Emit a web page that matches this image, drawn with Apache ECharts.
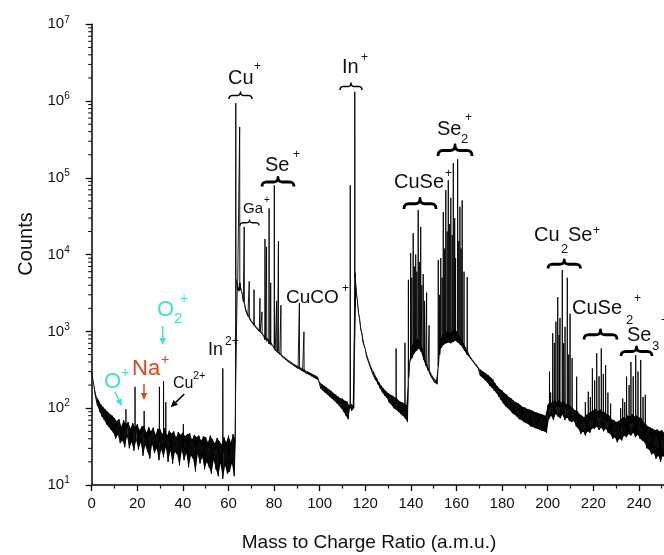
<!DOCTYPE html>
<html><head><meta charset="utf-8">
<script src="https://cdn.jsdelivr.net/npm/echarts@6/dist/echarts.min.js"></script>
<style>html,body{margin:0;padding:0;background:#fff}#c{width:664px;height:555px}</style>
</head><body><div id="c"></div>
<script>
const FONT = '"Liberation Sans", Arial, sans-serif';

// background noise / decay tails, sampled every 0.5 amu starting at 0
const noiseStart = 0, noiseStep = 0.5;
const noise = [
300,235,196,150,146,108,128,90,112,78,104,70,96,62,90,57,84,52,80,48,
74,40,68,45,72,35,58,38,70,31,62,43,66,30,55,36,64,28,57,38,
62,29,52,36,58,24,60,33,48,27,57,22,50,34,56,26,45,30,54,21,
53,29,46,23,55,31,44,20,51,28,47,19,50,27,42,25,49,18,45,28,
48,21,43,26,46,17,47,24,39,22,45,15,42,25,44,19,38,23,43,16,
42,20,36,17,44,14,39,21,35,16,41,13,37,19,34,12,42,18,36,14,
44,15,36,19,46,13,40,4800,3500,3300,4300,3500,3100,2450,2300,1880,1850,1580,1590,1400,
1400,1290,1290,1180,1180,1080,1090,1000,1010,930,935,860,870,800,810,745,755,695,705,650,
615,565,575,530,540,500,510,470,480,445,455,420,432,398,410,380,392,362,375,345,
360,330,346,316,334,304,321,292,310,280,298,270,288,260,277,250,266,240,256,230,
220,180,205,168,196,158,186,150,176,140,168,132,158,124,150,116,142,108,135,100,
133,90,125,80,122,72,108,116,92,110,100,5800,3300,2600,1750,1480,1050,960,720,690,
590,480,470,390,385,320,325,270,285,232,248,205,218,180,196,160,180,145,168,136,
158,118,150,110,145,100,138,96,132,90,124,84,120,80,116,74,110,66,250,400,
600,450,700,520,750,560,800,600,750,540,600,430,460,360,380,310,320,270,280,240,
250,215,230,205,350,550,800,620,900,680,950,700,1000,720,950,700,1000,730,1050,760,
1000,720,900,680,800,620,700,560,620,500,540,470,480,430,430,395,395,360,365,330,
330,262,310,248,296,232,282,218,268,196,252,186,236,170,210,158,192,142,178,128,
170,116,158,106,150,100,140,94,134,86,126,82,120,78,116,72,110,70,104,66,
102,64,98,62,96,58,94,57,90,55,88,54,86,52,84,51,82,50,80,48,
110,72,124,80,116,70,130,84,120,78,128,74,118,82,124,70,112,76,116,68,
106,66,100,68,94,58,92,54,84,46,80,50,76,44,82,50,86,48,90,55,
94,54,98,58,92,52,96,56,90,50,88,54,84,48,80,46,72,40,70,42,
66,36,68,40,72,38,76,44,74,42,80,46,78,44,84,48,78,42,80,45,
76,40,74,38,66,36,62,30,58,29,56,25,54,26,52,22,53,24,50,20,
52,24,48,22,50,21,46,24,49,20,47,22,50,19,45,23,48,21,46,20
];

// isolated mass peaks
const peakMz = [
15.0,19.0,23.0,29.7,31.5,32.5,40.2,57.5,
63.2,64.9,66.9,69.1,71.2,73.8,74.7,76.0,76.7,77.8,78.5,80.1,81.1,81.9,83.0,91.1,93.1,
113.4,115.4,133.5,137.4,
138.9,139.9,140.4,141.0,141.5,142.1,142.6,143.2,143.7,144.3,144.8,145.4,146.0,146.9,148.0,
152.0,152.6,153.1,153.7,154.2,154.8,155.3,155.9,156.4,157.0,157.5,158.1,158.6,159.2,159.6,160.5,161.0,161.5,162.0,162.5,163.3,164.7,
200.8,201.3,202.2,202.9,203.6,204.4,205.0,205.4,206.4,207.0,207.6,208.6,209.2,209.8,210.7,212.7,
216.5,217.8,218.7,219.6,220.6,221.5,222.5,223.5,224.4,225.4,226.4,227.6,
232.0,232.9,233.8,234.6,235.7,236.5,237.5,238.6,239.6,240.8,241.8,242.8
];
const peakTop = [
97,190,92,190,225,120,62,330,
940000,460000,23000,4500,3500,2700,1800,16000,12600,40000,4300,80000,2500,15000,2200,2340,990,
80000,1320000,600,710,
4700,10500,5000,19000,7000,10000,6000,38000,8000,23000,4000,5600,2500,3200,1200,
8500,3000,9000,5000,36000,12000,69000,20000,93000,25000,55000,18000,155000,30000,9000,175000,15000,42000,12000,51000,6000,5100,
300,160,950,710,1340,2800,900,1500,6300,700,1150,5000,500,1700,450,258,
120,164,140,330,230,520,260,600,280,365,160,115,
100,134,120,258,200,400,260,490,300,425,140,150
];
const peakBase = [
45,40,38,36,36,35,30,26,
5000,3500,2400,1550,1200,980,920,780,740,690,670,600,570,545,505,330,300,
100,5000,115,90,
250,450,550,650,600,700,650,700,650,650,550,500,450,380,300,
350,500,700,700,800,750,850,800,850,800,850,800,900,850,850,850,800,750,700,650,600,560,
100,100,105,105,105,105,105,105,105,100,100,100,95,95,90,80,
60,65,70,72,75,75,75,75,72,70,65,55,
50,55,58,60,62,62,62,60,58,55,50,45
];

const yMinorTicks = [
20,30,40,50,60,70,80,90,
200,300,400,500,600,700,800,900,
2000,3000,4000,5000,6000,7000,8000,9000,
20000,30000,40000,50000,60000,70000,80000,90000,
200000,300000,400000,500000,600000,700000,800000,900000,
2000000,3000000,4000000,5000000,6000000,7000000,8000000,9000000
];

const noisePts = noise.map((v, i) => [noiseStart + i * noiseStep, v]);
const pts = noisePts.slice();
peakMz.forEach((m, i) => {
  pts.push([m - 0.07, peakBase[i]], [m, peakTop[i]], [m + 0.07, peakBase[i]]);
});
pts.sort((a, b) => a[0] - b[0]);
// consecutive noise sample triples -> filled band between the zigzag envelopes
const bandTri = [];
for (let i = 0; i + 2 < noisePts.length; i++) {
  bandTri.push([noisePts[i][0], noisePts[i][1], noisePts[i + 1][0], noisePts[i + 1][1], noisePts[i + 2][0], noisePts[i + 2][1]]);
}

const CYAN = '#3fe3cf', RED = '#e2461c', INK = '#111';

function T(x, y, text, size, color, extra) {
  return Object.assign({
    type: 'text', x: x, y: y, silent: true,
    style: { text: text, fill: color || INK, font: size + 'px ' + FONT,
      align: 'left', verticalAlign: 'middle', textAlign: 'left', textVerticalAlign: 'middle' }
  }, extra || {});
}
function quad(p0, p1, p2, out) {
  for (let k = 1; k <= 6; k++) {
    const t = k / 6, a = (1 - t) * (1 - t), b = 2 * t * (1 - t), c = t * t;
    out.push([a * p0[0] + b * p1[0] + c * p2[0], a * p0[1] + b * p1[1] + c * p2[1]]);
  }
}
function brace(x1, x2, y1, y2, w) {
  const xm = (x1 + x2) / 2, ym = (y1 + y2) / 2, r = Math.min(5, (x2 - x1) / 6);
  const p = [[x1, y2]];
  quad([x1, y2], [x1, ym], [x1 + r, ym], p);
  p.push([xm - r, ym]);
  quad([xm - r, ym], [xm, ym], [xm, y1], p);
  quad([xm, y1], [xm, ym], [xm + r, ym], p);
  p.push([x2 - r, ym]);
  quad([x2 - r, ym], [x2, ym], [x2, y2], p);
  return { type: 'polyline', silent: true, shape: { points: p }, style: { stroke: '#000', lineWidth: w, fill: null, lineJoin: 'round' } };
}
function arrow(x1, y1, x2, y2, color) {
  const dx = x2 - x1, dy = y2 - y1, L = Math.sqrt(dx * dx + dy * dy), ux = dx / L, uy = dy / L;
  const hl = 7, hw = 3.2;
  const bx = x2 - ux * hl, by = y2 - uy * hl;
  return [
    { type: 'line', silent: true, shape: { x1: x1, y1: y1, x2: bx, y2: by }, style: { stroke: color, lineWidth: 1.5 } },
    { type: 'polygon', silent: true, shape: { points: [[x2, y2], [bx - uy * hw, by + ux * hw], [bx + uy * hw, by - ux * hw]] }, style: { fill: color } }
  ];
}

const graphics = [
  T(228, 78, 'Cu', 20), T(254, 67, '+', 12),
  T(342, 67.5, 'In', 20), T(361, 58, '+', 12),
  T(265, 165.5, 'Se', 20), T(293, 155, '+', 12),
  T(243, 209, 'Ga', 15), T(264, 200, '+', 10),
  T(286, 297.5, 'CuCO', 19), T(342, 289, '+', 12),
  T(394, 182.5, 'CuSe', 20), T(445, 174, '+', 12),
  T(437, 129.5, 'Se', 20), T(461, 139, '2', 13), T(465, 118, '+', 12),
  T(534, 235, 'Cu', 20), T(561, 249, '2', 13), T(568, 235, 'Se', 20), T(593, 231, '+', 12),
  T(572, 308.5, 'CuSe', 20), T(626, 320, '2', 13), T(634, 299, '+', 12),
  T(627, 335.5, 'Se', 20), T(652, 346, '3', 13), T(661, 321, '+', 12),
  T(104, 381.5, 'O', 22, CYAN), T(121, 373, '+', 14, CYAN),
  T(132, 369, 'Na', 22, RED), T(161, 360, '+', 14, RED),
  T(157, 310, 'O', 22, CYAN), T(174, 319, '2', 15, CYAN), T(180, 299, '+', 14, CYAN),
  T(173, 383.5, 'Cu', 16), T(193, 376, '2+', 11),
  T(208, 350, 'In', 18), T(225, 342, '2+', 12),
  brace(229, 252, 92, 99, 1.5),
  brace(340, 362, 83, 90, 1.5),
  brace(262, 294, 177.5, 186.5, 2.8),
  brace(240, 259, 220, 225.5, 1.3),
  brace(404, 436, 198.5, 209, 2.8),
  brace(438, 472, 145, 156, 2.8),
  brace(548, 580.5, 260, 268.5, 2.8),
  brace(584, 617, 330, 339.5, 2.8),
  brace(621, 652, 347, 356, 2.8),
  ...arrow(115, 391.7, 121.7, 406, CYAN),
  ...arrow(144, 384, 144, 400, RED),
  ...arrow(162.7, 326, 162.7, 345, CYAN),
  ...arrow(184.3, 394, 170.7, 407.3, '#000'),
  T(369, 543, 'Mass to Charge Ratio (a.m.u.)', 19, '#111', {}),
  T(26, 244, 'Counts', 20, '#111', { rotation: Math.PI / 2 })
];
graphics[graphics.length - 2].style.align = 'center';
graphics[graphics.length - 2].style.textAlign = 'center';
graphics[graphics.length - 1].style.align = 'center';
graphics[graphics.length - 1].style.textAlign = 'center';

const chart = echarts.init(document.getElementById('c'), null, { renderer: 'canvas' });
chart.setOption({
  animation: false,
  backgroundColor: '#fff',
  grid: { left: 91.7, top: 24.3, width: 2.28 * 260, height: 460.7, containLabel: false, outerBoundsMode: 'none' },
  xAxis: {
    type: 'value', min: 0, max: 260, interval: 20,
    axisLine: { show: true, lineStyle: { color: '#000', width: 1.5 } },
    axisTick: { show: true, length: 6, lineStyle: { color: '#000', width: 1.3 } },
    minorTick: { show: true, splitNumber: 2, length: 3.5, lineStyle: { color: '#000', width: 1.2 } },
    splitLine: { show: false },
    axisLabel: { fontSize: 15, color: '#111', fontFamily: FONT, margin: 11 }
  },
  yAxis: {
    type: 'log', logBase: 10, min: 10, max: 1e7, splitNumber: 6,
    axisLine: { show: true, lineStyle: { color: '#000', width: 1.5 } },
    axisTick: { show: true, length: 6, lineStyle: { color: '#000', width: 1.3 } },
    splitLine: { show: false },
    axisLabel: {
      margin: 22, color: '#111',
      formatter: v => '{b|10}{s|' + Math.round(Math.log10(v)) + '}',
      rich: {
        b: { fontSize: 15, fontFamily: FONT, color: '#111' },
        s: { fontSize: 10, fontFamily: FONT, color: '#111', padding: [0, 0, 9, 0] }
      }
    }
  },
  series: [
    {
      type: 'custom', data: bandTri, silent: true, clip: true, z: 1,
      encode: { x: [0, 2, 4], y: [1, 3, 5] },
      renderItem: (params, api) => {
        const a = api.coord([api.value(0), api.value(1)]);
        const b = api.coord([api.value(2), api.value(3)]);
        const c = api.coord([api.value(4), api.value(5)]);
        return { type: 'polygon', shape: { points: [a, b, c] }, style: { fill: '#000', stroke: null } };
      }
    },
    {
      type: 'line', data: pts, symbol: 'none', showSymbol: false, sampling: false,
      lineStyle: { color: '#000', width: 0.9 }, silent: true, z: 2
    },
    {
      type: 'custom', data: yMinorTicks.map(v => [0, v]), silent: true, clip: false, z: 3,
      encode: { x: 0, y: 1 },
      renderItem: (params, api) => {
        const p = api.coord([0, api.value(1)]);
        return { type: 'line', shape: { x1: p[0] - 3.5, y1: p[1], x2: p[0], y2: p[1] }, style: { stroke: '#000', lineWidth: 1 } };
      }
    }
  ],
  graphic: graphics
});
</script></body></html>
